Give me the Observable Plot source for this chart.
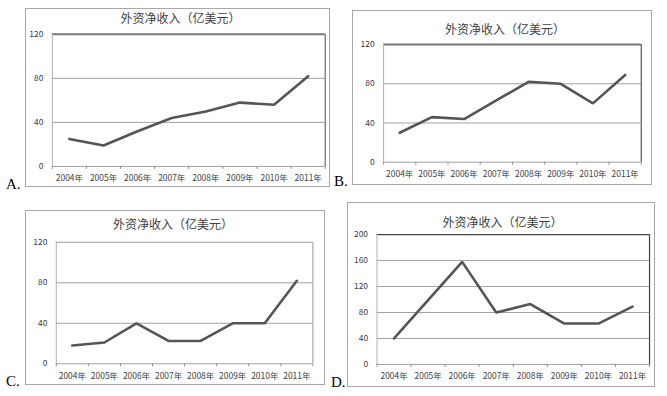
<!DOCTYPE html>
<html>
<head>
<meta charset="utf-8">
<script src="https://cdn.jsdelivr.net/npm/d3@7"></script>
<script src="https://cdn.jsdelivr.net/npm/@observablehq/plot@0.6"></script>
<style>
  html, body { margin: 0; padding: 0; background: #fff; }
  #root { position: relative; width: 667px; height: 396px; overflow: hidden; }
  .panel { position: absolute; box-sizing: border-box; border: 1px solid #a8a8a8; }
  .panel svg { position: absolute; left: 0; top: 0; overflow: visible; }
  .title { position: absolute; transform: translate(-50%, -50%); white-space: nowrap;
           font-family: "Noto Sans CJK SC", sans-serif; font-size: 12px; color: #404040; }
  .letter { position: absolute; font-family: "Liberation Serif", serif; font-size: 15px; color: #000; line-height: 1; }
</style>
</head>
<body>
<div id="root"></div>
<script>
const years = ["2004年", "2005年", "2006年", "2007年", "2008年", "2009年", "2010年", "2011年"];
const valuesA = [25, 19, 32, 44, 50, 58, 56, 82];
const valuesB = [30, 46, 44, 63, 82, 80, 60, 89];
const valuesC = [18, 21, 40, 22.5, 22.5, 40, 40, 82];
const valuesD = [40, 99, 158, 80, 93, 63, 63, 89];
const yTicksABC = [0, 40, 80, 120];
const yTicksD = [0, 40, 80, 120, 160, 200];
const panelLetters = ["A.", "B.", "C.", "D."];
const chartTitle = "外资净收入（亿美元）";

// layout: outer box and plot area (page pixels)
const panels = [
  {values: valuesA, ticks: yTicksABC, letter: panelLetters[0],
   box: [25, 8, 330, 187], plot: [51, 33, 325.7, 166], title: [180.5, 16.5], letterPos: [6, 177],
   topStroke: "#777", topWidth: 2, rightStroke: "#666"},
  {values: valuesB, ticks: yTicksABC, letter: panelLetters[1],
   box: [352, 10, 652, 185], plot: [382.3, 43.3, 641.7, 161.7], title: [505, 28], letterPos: [334, 174],
   topStroke: "#777", topWidth: 2, rightStroke: "#555"},
  {values: valuesC, ticks: yTicksABC, letter: panelLetters[2],
   box: [25, 210, 325, 385], plot: [55, 241, 313.3, 363.3], title: [173, 223], letterPos: [6, 374],
   topStroke: "#999", topWidth: 1, rightStroke: "#aaa"},
  {values: valuesD, ticks: yTicksD, letter: panelLetters[3],
   box: [347, 202, 655, 387], plot: [375.7, 233.3, 650, 364], title: [502.5, 221], letterPos: [331, 375],
   topStroke: "#444", topWidth: 1.2, rightStroke: "#444"}
];

const root = document.getElementById("root");

for (const p of panels) {
  const [bx0, by0, bx1, by1] = p.box;
  const [px0, py0, px1, py1] = p.plot;
  const W = bx1 - bx0, H = by1 - by0;
  const data = years.map((yr, i) => ({i: i + 0.5, year: yr, value: p.values[i]}));
  const ymax = p.ticks[p.ticks.length - 1];

  const div = document.createElement("div");
  div.className = "panel";
  Object.assign(div.style, {left: bx0 + "px", top: by0 + "px", width: W + "px", height: H + "px"});

  const svg = Plot.plot({
    width: W,
    height: H,
    marginLeft: px0 - bx0,
    marginTop: py0 - by0,
    marginRight: bx1 - px1,
    marginBottom: by1 - py1,
    style: {fontFamily: "'Noto Sans CJK SC', sans-serif", fontSize: "8.5px", color: "#404040", background: "transparent"},
    x: {type: "linear", domain: [0, years.length], axis: null, label: null},
    y: {domain: [0, ymax], axis: null, label: null},
    marks: [
      Plot.ruleY(p.ticks.filter(t => t > 0 && t < ymax), {stroke: "#a0a0a0", strokeWidth: 1}),
      Plot.ruleY([ymax], {stroke: p.topStroke, strokeWidth: p.topWidth}),
      Plot.ruleX([0], {stroke: "#b0b0b0", strokeWidth: 1}),
      Plot.ruleX([years.length], {stroke: p.rightStroke, strokeWidth: 1.2}),
      Plot.ruleY([0], {stroke: "#a0a0a0", strokeWidth: 1}),
      Plot.axisX({ticks: d3.range(0, years.length + 1), tickSize: 3, tickFormat: () => "", stroke: "#909090", label: null}),
      Plot.axisX({ticks: data.map(d => d.i), tickSize: 0, tickPadding: 9, label: null,
                  tickFormat: v => years[Math.round(v - 0.5)], fill: "#404040"}),
      Plot.axisY({ticks: p.ticks, tickSize: 0, tickPadding: 9, tickFormat: d => String(d), fill: "#404040", label: null}),
      Plot.line(data, {x: "i", y: "value", stroke: "#555555", strokeWidth: 2.6, strokeLinejoin: "miter"})
    ]
  });
  div.appendChild(svg);
  root.appendChild(div);

  const t = document.createElement("div");
  t.className = "title";
  t.textContent = chartTitle;
  Object.assign(t.style, {left: p.title[0] + "px", top: p.title[1] + "px"});
  root.appendChild(t);

  const l = document.createElement("div");
  l.className = "letter";
  l.textContent = p.letter;
  Object.assign(l.style, {left: p.letterPos[0] + "px", top: p.letterPos[1] + "px"});
  root.appendChild(l);
}
</script>
</body>
</html>
